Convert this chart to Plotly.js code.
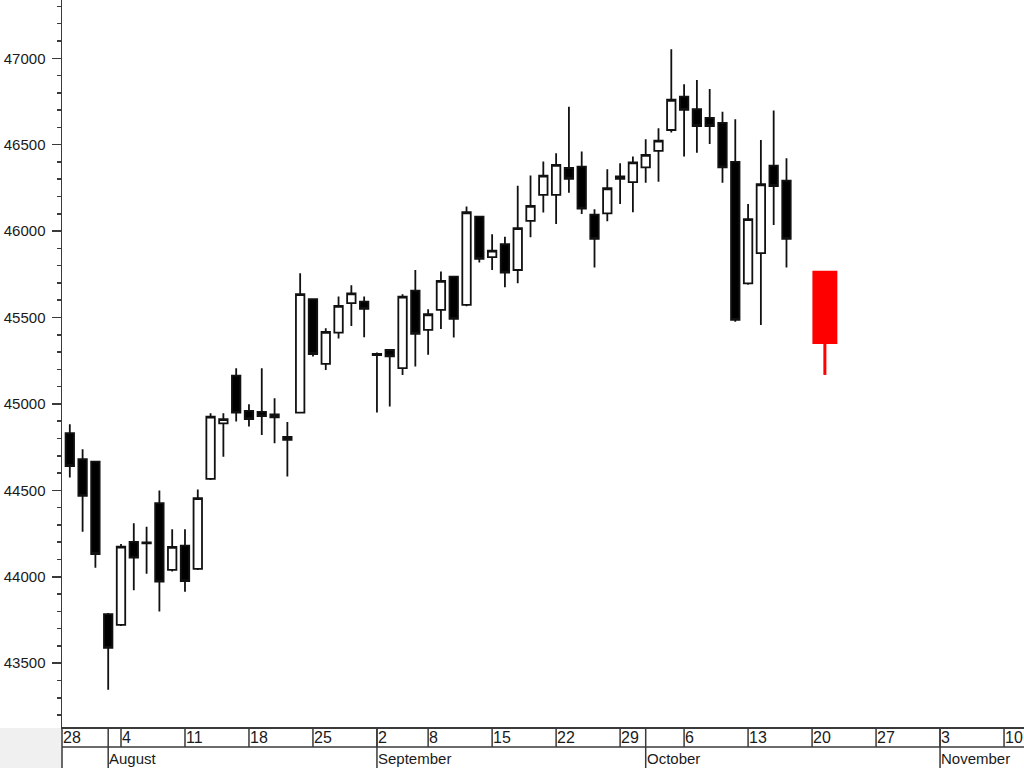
<!DOCTYPE html>
<html>
<head>
<meta charset="utf-8">
<script src="https://cdn.plot.ly/plotly-3.0.1.min.js"></script>
<style>
html,body{margin:0;padding:0;background:#ffffff;}
#chart{width:1024px;height:768px;}
</style>
</head>
<body>
<div id="chart"></div>
<script>
// ---- data (daily candles) ----
const dates = ['2025-07-29','2025-07-30','2025-07-31','2025-08-01','2025-08-04','2025-08-05','2025-08-06','2025-08-07','2025-08-08',
  '2025-08-11','2025-08-12','2025-08-13','2025-08-14','2025-08-15','2025-08-18','2025-08-19','2025-08-20','2025-08-21','2025-08-22',
  '2025-08-25','2025-08-26','2025-08-27','2025-08-28','2025-08-29','2025-09-02','2025-09-03','2025-09-04','2025-09-05',
  '2025-09-08','2025-09-09','2025-09-10','2025-09-11','2025-09-12','2025-09-15','2025-09-16','2025-09-17','2025-09-18','2025-09-19',
  '2025-09-22','2025-09-23','2025-09-24','2025-09-25','2025-09-26','2025-09-29','2025-09-30','2025-10-01','2025-10-02','2025-10-03',
  '2025-10-06','2025-10-07','2025-10-08','2025-10-09','2025-10-10','2025-10-13','2025-10-14','2025-10-15','2025-10-16'];
const open  = [44831,44680,44666,43784,43722,44202,44193,44426,44040,
  44180,44046,44566,44888,45164,44960,44954,44923,44809,44950,
  45606,45232,45413,45583,45592,45290,45312,45207,45656,
  45428,45544,45737,45573,46084,45849,45924,45775,46059,46209,
  46209,46365,46373,46095,46103,46303,46283,46369,46464,46585,
  46778,46705,46655,46626,46400,45698,45872,46379,46292];
const high  = [44883,44738,44672,43790,44190,44310,44290,44499,44275,
  44275,44505,44946,44946,45207,44998,45207,45033,44896,45756,
  45610,45438,45621,45687,45621,45298,45315,45635,45775,
  45548,45766,45740,46142,46088,45982,45968,46263,46321,46402,
  46450,46720,46460,46126,46358,46393,46431,46531,46595,47052,
  46850,46874,46822,46691,46647,46157,46527,46697,46421];
const low   = [44574,44261,44053,43346,43715,43922,44017,43799,44030,
  43914,44040,44560,44695,44898,44869,44821,44773,44580,44945,
  45274,45197,45378,45451,45386,44950,44985,45168,45216,
  45284,45434,45384,45565,45818,45775,45675,45698,45964,46107,
  46041,46222,46099,45789,46057,46157,46109,46280,46286,46570,
  46431,46454,46504,46280,45476,45690,45457,46036,45789];
const close = [44641,44468,44132,43589,44175,44111,44199,43972,44173,
  43975,44455,44927,44912,44950,44912,44929,44940,44792,45635,
  45289,45417,45567,45640,45550,45283,45276,45621,45405,
  45519,45712,45492,46109,45839,45887,45760,46017,46146,46321,
  46383,46303,46130,45955,46248,46316,46398,46441,46523,46760,
  46701,46608,46608,46369,45486,46069,46271,46261,45955];

// highlighted (red) candle
const redDate  = ['2025-10-21'];
const redOpen  = [45771];
const redHigh  = [45771];
const redLow   = [45168];
const redClose = [45347];

// ---- axis labels ----
const weekStarts = ['2025-07-28','2025-08-04','2025-08-11','2025-08-18','2025-08-25','2025-09-02','2025-09-08','2025-09-15',
  '2025-09-22','2025-09-29','2025-10-06','2025-10-13','2025-10-20','2025-10-27','2025-11-03','2025-11-10'];
const weekLabels = ['28','4','11','18','25','2','8','15','22','29','6','13','20','27','3','10'];
const monthStarts = ['2025-08-01','2025-09-02','2025-10-01','2025-11-03'];
const monthLabels = ['August','September','October','November'];
const holidays = ['2025-09-01'];
const calendarStart = '2025-07-28';

// trading-day index (weekends and holidays removed)
function tradingIndex(s) {
  const end = new Date(s + 'T00:00:00Z');
  let idx = 0;
  for (let d = new Date(calendarStart + 'T00:00:00Z'); d < end; d.setUTCDate(d.getUTCDate() + 1)) {
    const dow = d.getUTCDay();
    const iso = d.toISOString().slice(0, 10);
    if (dow !== 0 && dow !== 6 && holidays.indexOf(iso) < 0) idx++;
  }
  return idx;
}

const W = 1024, H = 768;
const M = {l: 62, r: 0, t: 0, b: 41};
const plotH = H - M.t - M.b;
const row1 = 20, row2 = 41;           // pixel depth of the two label rows below the plot
const xRange = [0.39, 75.56];
const yRange = [43131, 47337];
const FONT = 'Liberation Sans, Arial, sans-serif';
const lineCol = '#3a3a3a';

const xs = dates.map(tradingIndex);
const rx = redDate.map(tradingIndex);

const candles = {
  type: 'candlestick',
  x: xs, open: open, high: high, low: low, close: close,
  increasing: {line: {color: '#111111', width: 1.8}, fillcolor: '#ffffff'},
  decreasing: {line: {color: '#111111', width: 1.8}, fillcolor: '#000000'},
  whiskerwidth: 0,
  hoverinfo: 'skip',
  showlegend: false
};
const redBody = {
  type: 'bar',
  x: rx, base: redClose, y: redOpen.map((o, i) => o - redClose[i]),
  width: 1.95,
  marker: {color: '#ff0000', line: {width: 0}},
  hoverinfo: 'skip', showlegend: false
};
const redWick = {
  type: 'scatter', mode: 'lines',
  x: [rx[0], rx[0]], y: [redLow[0], Math.min(redOpen[0], redClose[0])],
  line: {color: '#ff0000', width: 3},
  hoverinfo: 'skip', showlegend: false
};

const py = px => -px / plotH;  // pixels below plot bottom -> paper y

const shapes = [];
const annotations = [];
// left grey block under y labels
shapes.push({type: 'rect', xref: 'paper', yref: 'paper', x0: -M.l / (W - M.l - M.r), x1: 0, y0: py(row2), y1: py(1),
  fillcolor: '#f0f0f0', line: {width: 0}, layer: 'below'});
// y axis line continued down through the label rows
shapes.push({type: 'line', xref: 'paper', yref: 'paper', x0: 0, x1: 0, y0: 0, y1: py(row2),
  line: {color: lineCol, width: 1.5}});
// horizontal divider between rows
shapes.push({type: 'line', xref: 'paper', yref: 'paper', x0: 0, x1: 1, y0: py(row1), y1: py(row1),
  line: {color: lineCol, width: 1.5}});

weekStarts.forEach((d, i) => {
  const xi = tradingIndex(d);
  shapes.push({type: 'line', xref: 'x', yref: 'paper', x0: xi, x1: xi, y0: 0, y1: py(row1),
    line: {color: lineCol, width: 1.5}});
  annotations.push({xref: 'x', yref: 'paper', x: Math.max(xi, xRange[0] + 0.01), y: py(row1 / 2 + 0.5),
    xanchor: 'left', yanchor: 'middle', showarrow: false, text: weekLabels[i],
    font: {family: FONT, size: 16, color: '#1a1a1a'}, xshift: -1});
});
monthStarts.forEach((d, i) => {
  const xi = tradingIndex(d);
  shapes.push({type: 'line', xref: 'x', yref: 'paper', x0: xi, x1: xi, y0: 0, y1: py(row2),
    line: {color: lineCol, width: 1.5}});
  annotations.push({xref: 'x', yref: 'paper', x: xi, y: py((row1 + row2) / 2 + 0.5),
    xanchor: 'left', yanchor: 'middle', showarrow: false, text: monthLabels[i],
    font: {family: FONT, size: 15, color: '#1a1a1a'}, xshift: -1});
});

const layout = {
  width: W, height: H,
  margin: M,
  paper_bgcolor: '#ffffff', plot_bgcolor: '#ffffff',
  font: {family: FONT, color: '#1a1a1a'},
  showlegend: false,
  boxgap: 0.34, boxgroupgap: 0,
  xaxis: {
    type: 'linear', range: xRange, fixedrange: true,
    showgrid: false, zeroline: false, showticklabels: false, ticks: '',
    showline: true, linecolor: lineCol, linewidth: 1.5,
    rangeslider: {visible: false}
  },
  yaxis: {
    range: yRange, fixedrange: true,
    showgrid: false, zeroline: false,
    showline: true, linecolor: lineCol, linewidth: 1.5,
    ticks: 'outside', ticklen: 9, tickwidth: 1.5, tickcolor: lineCol,
    tick0: 0, dtick: 500, tickformat: 'd',
    tickfont: {family: FONT, size: 15, color: '#1a1a1a'},
    ticklabelstandoff: 3,
    minor: {ticks: 'outside', ticklen: 4, tickwidth: 1.5, tickcolor: lineCol, dtick: 100, showgrid: false}
  },
  shapes: shapes,
  annotations: annotations
};

Plotly.newPlot('chart', [candles, redBody, redWick], layout, {staticPlot: true, displayModeBar: false});
</script>
</body>
</html>
